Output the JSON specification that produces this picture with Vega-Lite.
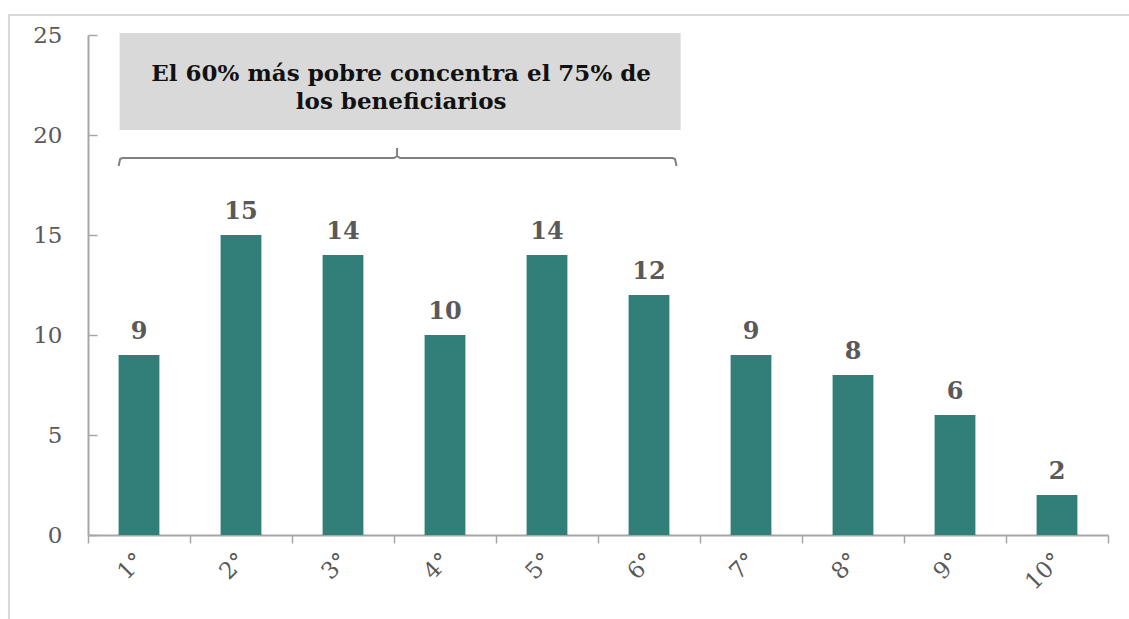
{
  "$schema": "https://vega.github.io/schema/vega-lite/v6.json",
  "autosize": "none",
  "width": 1020,
  "height": 500,
  "padding": {"left": 88, "top": 35, "right": 21, "bottom": 84},
  "background": "white",
  "config": {"view": {"stroke": null}, "font": "DejaVu Serif"},
  "datasets": {
    "bars": [
      {"d": "1°", "v": 9}, {"d": "2°", "v": 15}, {"d": "3°", "v": 14}, {"d": "4°", "v": 10},
      {"d": "5°", "v": 14}, {"d": "6°", "v": 12}, {"d": "7°", "v": 9}, {"d": "8°", "v": 8},
      {"d": "9°", "v": 6}, {"d": "10°", "v": 2}
    ],
    "frame": [{"x1": -0.775, "x2": 11, "y1": 26, "y2": -10}],
    "box": [{"x1": 0.31, "x2": 5.81, "y1": 25.1, "y2": 20.25}],
    "note": [{"x": 3.07, "y": 23.05, "t": "El 60% más pobre concentra el 75% de"}, {"x": 3.07, "y": 21.65, "t": "los beneficiarios"}],
    "bracket": [
      {"o": 1, "x": 0.30, "y": 18.45}, {"o": 2, "x": 0.315, "y": 18.8}, {"o": 3, "x": 0.34, "y": 18.85},
      {"o": 4, "x": 3.0, "y": 18.85}, {"o": 5, "x": 3.03, "y": 18.95}, {"o": 6, "x": 3.03, "y": 19.35},
      {"o": 7, "x": 3.03, "y": 18.95}, {"o": 8, "x": 3.06, "y": 18.85}, {"o": 9, "x": 5.73, "y": 18.85},
      {"o": 10, "x": 5.755, "y": 18.8}, {"o": 11, "x": 5.77, "y": 18.45}
    ]
  },
  "layer": [
    {
      "data": {"name": "frame"},
      "mark": {"type": "rect", "fill": null, "stroke": "#d9d9d9", "strokeWidth": 2},
      "encoding": {
        "x": {"field": "x1", "type": "quantitative", "scale": {"domain": [0, 10]}, "axis": null},
        "x2": {"field": "x2"},
        "y": {"field": "y1", "type": "quantitative", "scale": {"domain": [0, 25]},
          "axis": {"title": null, "values": [0, 5, 10, 15, 20, 25], "grid": false, "labelFontSize": 23, "labelColor": "#595959", "labelFont": "DejaVu Serif",
            "tickSize": -9, "tickColor": "#a6a6a6", "tickWidth": 1.5, "domainColor": "#a6a6a6", "domainWidth": 2, "labelPadding": 35}},
        "y2": {"field": "y2"}
      }
    },
    {
      "data": {"name": "bars"},
      "mark": {"type": "bar", "color": "#317f78", "width": {"band": 0.4}},
      "encoding": {
        "x": {"field": "d", "type": "nominal", "sort": null,
          "scale": {"paddingInner": 0, "paddingOuter": 0},
          "axis": {"title": null, "labelAngle": -45, "labelFontSize": 23, "labelColor": "#595959", "labelFont": "DejaVu Serif",
            "tickBand": "extent", "tickSize": 8, "tickColor": "#a6a6a6", "tickWidth": 1.5, "domainColor": "#a6a6a6", "domainWidth": 2, "labelPadding": 6, "labelOffset": -7}},
        "y": {"field": "v", "type": "quantitative", "scale": {"domain": [0, 25]},
          "axis": {"title": null, "values": [0, 5, 10, 15, 20, 25], "grid": false, "labelFontSize": 23, "labelColor": "#595959", "labelFont": "DejaVu Serif",
            "tickSize": -9, "tickColor": "#a6a6a6", "tickWidth": 1.5, "domainColor": "#a6a6a6", "domainWidth": 2, "labelPadding": 35}}
      }
    },
    {
      "data": {"name": "bars"},
      "mark": {"type": "text", "fontWeight": "bold", "fontSize": 24, "color": "#595959", "baseline": "bottom", "dy": -11, "font": "DejaVu Serif"},
      "encoding": {
        "x": {"field": "d", "type": "nominal", "sort": null, "scale": {"paddingInner": 0, "paddingOuter": 0}, "axis": null},
        "y": {"field": "v", "type": "quantitative", "scale": {"domain": [0, 25]}},
        "text": {"field": "v"}
      }
    },
    {
      "data": {"name": "box"},
      "mark": {"type": "rect", "fill": "#d9d9d9"},
      "encoding": {
        "x": {"field": "x1", "type": "quantitative", "scale": {"domain": [0, 10]}, "axis": null},
        "x2": {"field": "x2"},
        "y": {"field": "y1", "type": "quantitative", "scale": {"domain": [0, 25]}},
        "y2": {"field": "y2"}
      }
    },
    {
      "data": {"name": "note"},
      "mark": {"type": "text", "fontWeight": "bold", "fontSize": 23, "color": "#111111", "align": "center", "baseline": "middle", "font": "DejaVu Serif"},
      "encoding": {
        "x": {"field": "x", "type": "quantitative", "scale": {"domain": [0, 10]}, "axis": null},
        "y": {"field": "y", "type": "quantitative", "scale": {"domain": [0, 25]}},
        "text": {"field": "t"}
      }
    },
    {
      "data": {"name": "bracket"},
      "mark": {"type": "line", "color": "#808080", "strokeWidth": 2},
      "encoding": {
        "x": {"field": "x", "type": "quantitative", "scale": {"domain": [0, 10]}, "axis": null},
        "y": {"field": "y", "type": "quantitative", "scale": {"domain": [0, 25]}},
        "order": {"field": "o"}
      }
    }
  ],
  "resolve": {"scale": {"x": "independent"}}
}
